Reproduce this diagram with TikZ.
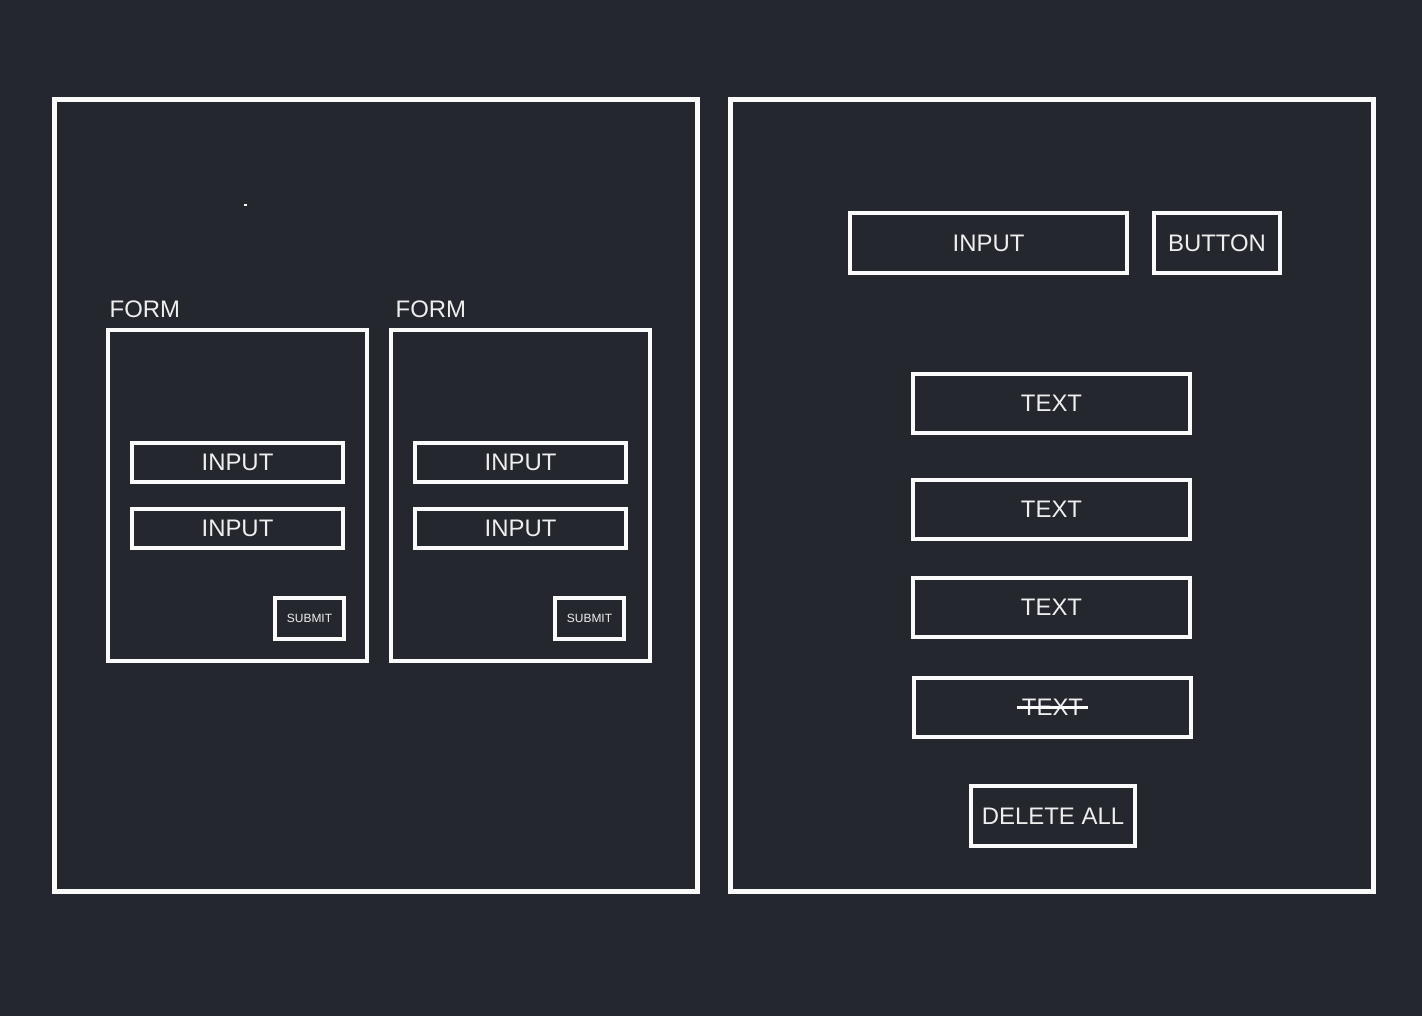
\documentclass[tikz,border=0pt]{standalone}
\usepackage{fontspec}
\setmainfont{Liberation Sans}
\usetikzlibrary{calc}

\definecolor{fondo}{RGB}{37,39,46}
\definecolor{trazo}{RGB}{250,250,250}
\definecolor{letra}{RGB}{238,238,238}

\tikzset{
  caja/.style={draw=trazo, line width=1.3pt, inner sep=0pt, text=letra,
    font=\fontsize{6.8}{8}\selectfont},
  marco/.style={draw=trazo, line width=1.4pt, inner sep=0pt},
  chica/.style={caja, font=\fontsize{3.4}{4}\selectfont},
  rotulo/.style={text=letra, inner sep=0pt, anchor=base west,
    font=\fontsize{6.8}{8}\selectfont},
}

\begin{document}
\begin{tikzpicture}[x=0.01cm, y=-0.01cm]
  % Fondo
  \fill[fondo] (0,0) rectangle (1422,1016);
  \useasboundingbox (0,0) rectangle (1422,1016);

  % Paneles
  \node[marco, minimum width=6.42cm, minimum height=7.91cm] (izq) at (376,495.5) {};
  \node[marco, minimum width=6.42cm, minimum height=7.91cm] (der) at (1052,495.5) {};
  \fill[trazo] (244,204.5) rectangle (247,206);

  % Formularios
  \node[caja, minimum width=2.59cm, minimum height=3.31cm] (formA) at (237.5,495.5) {};
  \node[caja, minimum width=2.59cm, minimum height=3.31cm] (formB) at (520.5,495.5) {};
  \node[rotulo] (rotA) at (109,318) {FORM};
  \node[rotulo] (rotB) at (395,318) {FORM};

  \node[caja, minimum width=2.11cm, minimum height=0.39cm] (inA1) at (237.5,462.5) {INPUT};
  \node[caja, minimum width=2.11cm, minimum height=0.39cm] (inA2) at (237.5,528.5) {INPUT};
  \node[chica, minimum width=0.69cm, minimum height=0.41cm] (subA) at (309.5,618.5) {SUBMIT};

  \node[caja, minimum width=2.11cm, minimum height=0.39cm] (inB1) at (520.5,462.5) {INPUT};
  \node[caja, minimum width=2.11cm, minimum height=0.39cm] (inB2) at (520.5,528.5) {INPUT};
  \node[chica, minimum width=0.69cm, minimum height=0.41cm] (subB) at (589.5,618.5) {SUBMIT};

  % Lista
  \node[caja, minimum width=2.77cm, minimum height=0.60cm] (entrada) at (988.5,243) {INPUT};
  \node[caja, minimum width=1.26cm, minimum height=0.60cm] (boton) at (1217,243) {BUTTON};

  \node[caja, minimum width=2.77cm, minimum height=0.59cm] (t1) at (1051.5,403.5) {TEXT};
  \node[caja, minimum width=2.77cm, minimum height=0.59cm] (t2) at (1051.5,509.5) {TEXT};
  \node[caja, minimum width=2.77cm, minimum height=0.59cm] (t3) at (1051.5,607.5) {TEXT};
  \node[caja, minimum width=2.77cm, minimum height=0.59cm] (t4) at (1052.5,707.5) {TEXT};
  \draw[trazo, line width=0.6pt] ($(t4.center)+(-36,0)$) -- ($(t4.center)+(35,0)$); % tachado

  \node[caja, minimum width=1.64cm, minimum height=0.60cm] (borrar) at (1053,816) {DELETE ALL};

\end{tikzpicture}
\end{document}
